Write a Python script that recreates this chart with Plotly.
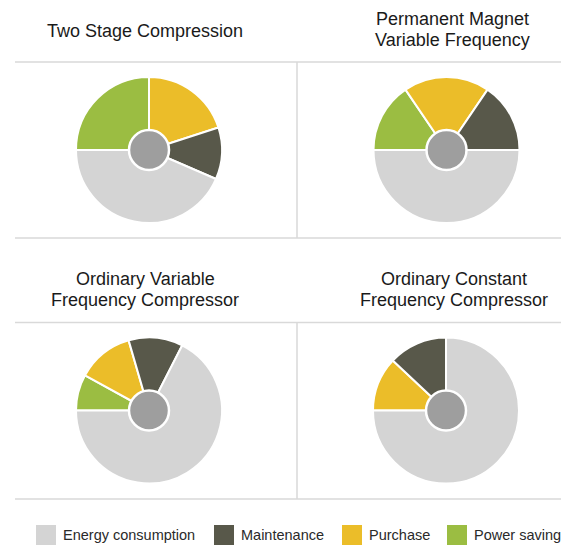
import plotly.graph_objects as go

W, H = 561, 547

# ---- data ----
chart_titles = [
    ["Two Stage Compression"],
    ["Permanent Magnet", "Variable Frequency"],
    ["Ordinary Variable", "Frequency Compressor"],
    ["Ordinary Constant", "Frequency Compressor"],
]
labels = ["Power saving", "Purchase", "Maintenance", "Energy consumption"]
legend_labels = ["Energy consumption", "Maintenance", "Purchase", "Power saving"]
energy = [43.5, 50, 67.5, 75]
maintenance = [11.5, 15.5, 12, 13]
purchase = [20, 19, 12.5, 12]
power_saving = [25, 15.5, 8, 0]

colors = {
    "Energy consumption": "#d4d4d4",
    "Maintenance": "#58584a",
    "Purchase": "#ebbd29",
    "Power saving": "#9bbd42",
}

# ---- layout helpers (pixel -> paper) ----
def fx(x):
    return x / W

def fy(y):
    return 1 - y / H

centers = [(149, 150), (446.5, 150), (149, 410.5), (446, 410.5)]
R = 73
title_x = [145, 452.5, 145, 453.5]
title_lines_y = [[31], [19, 40], [278.5, 299.5], [278.5, 299.5]]

fig = go.Figure()
values_by_chart = list(zip(power_saving, purchase, maintenance, energy))
for i, vals in enumerate(values_by_chart):
    cx, cy = centers[i]
    fig.add_trace(go.Pie(
        labels=labels,
        values=list(vals),
        sort=False,
        direction="clockwise",
        rotation=270,
        textinfo="none",
        hoverinfo="label+value",
        marker=dict(colors=[colors[l] for l in labels],
                    line=dict(color="white", width=2)),
        domain=dict(x=[fx(cx - R), fx(cx + R)], y=[fy(cy + R), fy(cy - R)]),
        showlegend=False,
    ))

shapes = []
line_col = "#d9d9d9"
for (x0, y0, x1, y1) in [(15, 62, 561, 62), (297, 62, 297, 238), (15, 238, 561, 238),
                         (15, 322.5, 561, 322.5), (297, 322.5, 297, 499), (15, 499, 561, 499)]:
    shapes.append(dict(type="line", xref="paper", yref="paper",
                       x0=fx(x0), y0=fy(y0), x1=fx(x1), y1=fy(y1),
                       line=dict(color=line_col, width=1.5)))
# centre discs
rc = 20
for (cx, cy) in centers:
    shapes.append(dict(type="circle", xref="paper", yref="paper",
                       x0=fx(cx - rc), x1=fx(cx + rc), y0=fy(cy + rc), y1=fy(cy - rc),
                       fillcolor="#9e9e9e", line=dict(color="white", width=2.5),
                       layer="above"))

annotations = []
for i, lines in enumerate(chart_titles):
    for txt, yy in zip(lines, title_lines_y[i]):
        annotations.append(dict(text=txt, x=fx(title_x[i]), y=fy(yy), xref="paper", yref="paper",
                                xanchor="center", yanchor="middle", showarrow=False,
                                font=dict(family="Liberation Sans, Arial, sans-serif", size=18, color="#1a1a1a")))

# manual legend
sq_x = [36, 214, 342, 447]
sq = 20
leg_y = 535
for lab, x in zip(legend_labels, sq_x):
    shapes.append(dict(type="rect", xref="paper", yref="paper",
                       x0=fx(x), x1=fx(x + sq), y0=fy(leg_y + sq / 2), y1=fy(leg_y - sq / 2),
                       fillcolor=colors[lab], line=dict(width=0)))
    annotations.append(dict(text=lab, x=fx(x + sq + 5), y=fy(leg_y), xref="paper", yref="paper",
                            xanchor="left", yanchor="middle", showarrow=False,
                            font=dict(family="Liberation Sans, Arial, sans-serif", size=14.5, color="#2a2a2a")))

fig.update_layout(
    width=W, height=H,
    margin=dict(l=0, r=0, t=0, b=0),
    paper_bgcolor="white", plot_bgcolor="white",
    shapes=shapes, annotations=annotations,
    showlegend=False,
)

fig.write_html(
    "out.html",
    config={"displayModeBar": False},
    post_script="document.body.style.margin='0';document.documentElement.style.overflow='hidden';",
)
